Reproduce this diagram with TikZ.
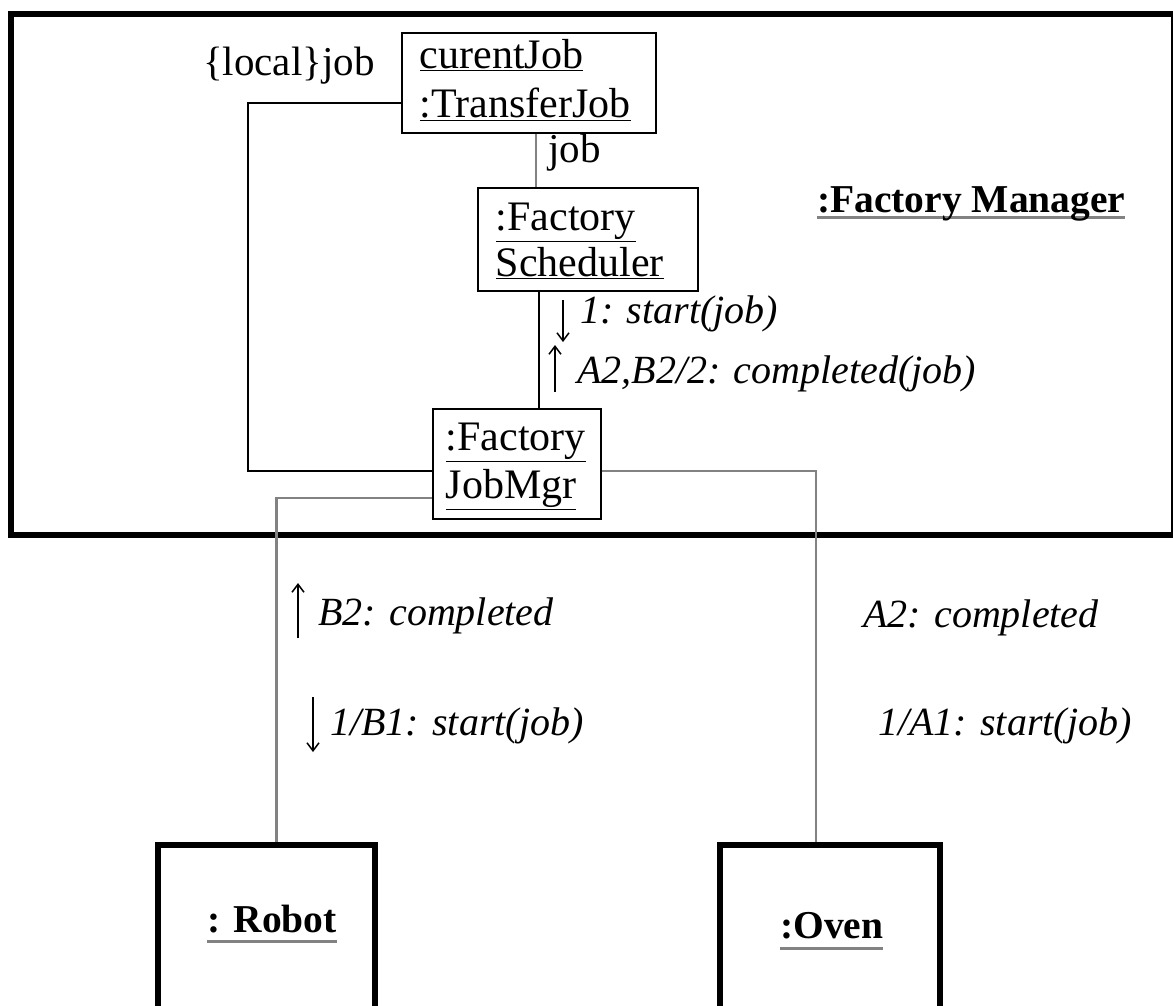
\documentclass[tikz,border=0pt]{standalone}
\usepackage{fontspec}
\setmainfont{Liberation Serif}
\usetikzlibrary{arrows.meta}
\definecolor{lgray}{RGB}{130,130,130}
\newcommand\gul[2]{\sbox0{#2}\rlap{\color{lgray}\rule[#1]{\wd0}{3pt}}\usebox0}
\begin{document}
\begin{tikzpicture}[x=1pt,y=-1pt,
  obj/.style={draw, line width=1.6pt, align=left, inner ysep=0pt, anchor=north west},
  big/.style={draw, line width=6pt, inner sep=0pt},
  lbl/.style={inner sep=0pt, anchor=base west},
  up/.style={lbl, font=\fontsize{41}{48}\selectfont},
  bf/.style={lbl, font=\fontsize{39.5}{48}\selectfont\bfseries},
  it/.style={lbl, font=\fontsize{40}{48}\selectfont\itshape},
  conn/.style={line width=2pt, black},
  gconn/.style={line width=2.5pt, lgray},
  marr/.style={line width=1.5pt, -{Straight Barb[length=8pt,width=12pt]}},
]
\useasboundingbox (0,0) rectangle (1173,1005);
\clip (0,0) rectangle (1173,1005);
\fill[white] (0,0) rectangle (1173,1005);

% frame
\node[big, minimum width=1163pt, minimum height=521pt] (fm) at (592.5,274) {};

% objects
\node[obj, text width=218pt, inner xsep=18pt, text height=36pt, text depth=64pt,
      font=\fontsize{42}{49}\selectfont] (tj) at (401,32)
  {\underline{curentJob}\\\underline{:TransferJob}};
\node[obj, text width=184pt, inner xsep=18pt, text height=43pt, text depth=60pt,
      font=\fontsize{42}{46}\selectfont] (sch) at (477,187)
  {\underline{:Factory}\\\underline{Scheduler}};
\node[obj, text width=142pt, inner xsep=13pt, text height=42pt, text depth=68pt,
      font=\fontsize{42}{48}\selectfont] (jm) at (432,408)
  {\underline{:Factory}\\\underline{JobMgr}};

\node[big, minimum width=217.5pt, minimum height=180pt] (rb) at (266.25,935) {};
\node[big, minimum width=219.5pt, minimum height=180pt] (ov) at (829.75,935) {};

% texts
\node[up] (lj) at (203,75) {\{local\}job};
\node[up] (jl) at (548,162) {job};
\node[bf] (fmgr) at (817,212) {\gul{-6.5pt}{:Factory Manager}};
\node[bf] (rbl) at (207,932) {\gul{-10.5pt}{: Robot}};
\node[bf] (ovl) at (780,938) {\gul{-11.5pt}{:Oven}};

\node[it] (m1) at (580,323) {1: start(job)};
\node[it] (m2) at (577,383) {A2,B2/2: completed(job)};
\node[it] (m3) at (318,625) {B2: completed};
\node[it] (m4) at (330,735) {1/B1: start(job)};
\node[it] (m5) at (863,627) {A2: completed};
\node[it] (m6) at (878,735) {1/A1: start(job)};

% message direction arrows
\draw[marr] ([xshift=-17pt,yshift=23pt]m1.base west) -- ([xshift=-17pt,yshift=-19pt]m1.base west);
\draw[marr] ([xshift=-22pt,yshift=-9pt]m2.base west) -- ([xshift=-22pt,yshift=38pt]m2.base west);
\draw[marr] ([xshift=-20pt,yshift=-13pt]m3.base west) -- ([xshift=-20pt,yshift=42pt]m3.base west);
\draw[marr] ([xshift=-17pt,yshift=38pt]m4.base west) -- ([xshift=-17pt,yshift=-17pt]m4.base west);

% connectors
\draw[conn] ([yshift=-20pt]tj.west) -- ++(-153,0) |- ([yshift=-7pt]jm.west);
\draw[gconn] ([xshift=7pt]tj.south) -- ([xshift=7pt]tj.south |- sch.north);
\draw[conn] ([xshift=-49pt]sch.south) -- ([xshift=-49pt]sch.south |- jm.north);
\draw[gconn] ([yshift=-34pt]jm.west) -| ([xshift=10pt]rb.north);
\draw[gconn] ([yshift=-7pt]jm.east) -| ([xshift=-13.75pt]ov.north);
\end{tikzpicture}
\end{document}
